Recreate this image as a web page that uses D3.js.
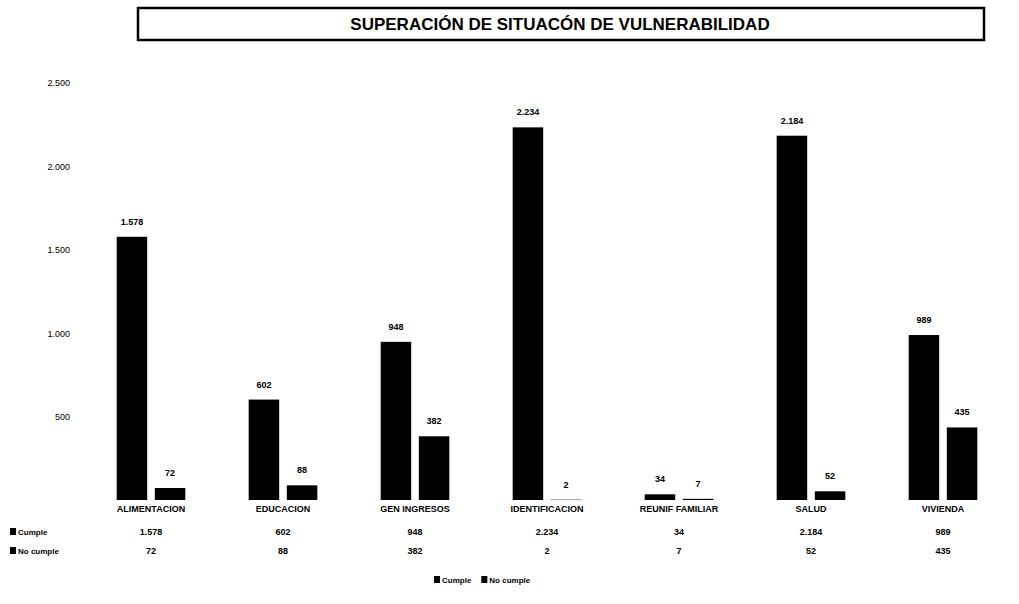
<!DOCTYPE html>
<html>
<head>
<meta charset="utf-8">
<script src="https://cdn.jsdelivr.net/npm/d3@7"></script>
<style>
  body { margin: 0; background: #fff; }
  text { font-family: "Liberation Sans", Arial, sans-serif; fill: #000; }
</style>
</head>
<body>
<script>
var categories = ["ALIMENTACION", "EDUCACION", "GEN INGRESOS", "IDENTIFICACION", "REUNIF FAMILIAR", "SALUD", "VIVIENDA"];
var series = ["Cumple", "No cumple"];
var cumple = [1578, 602, 948, 2234, 34, 2184, 989];
var noCumple = [72, 88, 382, 2, 7, 52, 435];
var yTicks = [500, 1000, 1500, 2000, 2500];

var width = 1019,
    height = 604;

var fmt = function (v) { return d3.format(",")(v).replace(/,/g, "."); };

var svg = d3.select("body")
    .append("svg")
    .attr("width", width)
    .attr("height", height);

//title box
svg.append("rect")
    .attr("x", 138).attr("y", 8)
    .attr("width", 846).attr("height", 32)
    .attr("fill", "none")
    .attr("stroke", "#000")
    .attr("stroke-width", 2.5);

svg.append("text")
    .attr("x", 560).attr("y", 30)
    .attr("text-anchor", "middle")
    .attr("font-size", 17)
    .attr("font-weight", "bold")
    .text("SUPERACIÓN DE SITUACÓN DE VULNERABILIDAD");

var x = d3.scaleBand()
    .domain(categories)
    .range([85, 1009])
    .paddingInner(0.48)
    .paddingOuter(0.24);

var xInner = d3.scaleBand()
    .domain(series)
    .range([0, x.bandwidth()])
    .paddingInner(0.2);

var y = d3.scaleLinear()
    .domain([0, 2500])
    .range([500, 83]);

//y axis labels only, no line
var yAxis = svg.append("g")
    .attr("transform", "translate(72,0)")
    .call(d3.axisLeft(y).tickValues(yTicks).tickSize(0).tickPadding(2).tickFormat(fmt));
yAxis.select(".domain").remove();
yAxis.selectAll("text").attr("font-size", 9).attr("font-family", "Liberation Sans, Arial, sans-serif");

var rows = categories.map(function (c, i) {
    return { cat: c, values: [cumple[i], noCumple[i]] };
});

var groups = svg.selectAll(".grp")
    .data(rows)
    .enter()
    .append("g")
    .attr("class", "grp")
    .attr("transform", function (d) { return "translate(" + x(d.cat) + ",0)"; });

groups.selectAll("rect")
    .data(function (d) { return d.values.map(function (v, j) { return { s: series[j], v: v }; }); })
    .enter()
    .append("rect")
    .attr("x", function (d) { return xInner(d.s); })
    .attr("y", function (d) { return y(d.v); })
    .attr("width", xInner.bandwidth())
    .attr("height", function (d) { return y(0) - y(d.v); })
    .attr("fill", "#000");

groups.selectAll(".lbl")
    .data(function (d) { return d.values.map(function (v, j) { return { s: series[j], v: v }; }); })
    .enter()
    .append("text")
    .attr("class", "lbl")
    .attr("x", function (d) { return xInner(d.s) + xInner.bandwidth() / 2; })
    .attr("y", function (d) { return y(d.v) - 12; })
    .attr("text-anchor", "middle")
    .attr("font-size", 9)
    .attr("font-weight", "bold")
    .text(function (d) { return fmt(d.v); });

//category labels
svg.selectAll(".cat")
    .data(categories)
    .enter()
    .append("text")
    .attr("x", function (d) { return x(d) + x.bandwidth() / 2; })
    .attr("y", 512)
    .attr("text-anchor", "middle")
    .attr("font-size", 9)
    .attr("font-weight", "bold")
    .text(function (d) { return d; });

//data table
var tableRows = [cumple, noCumple];
tableRows.forEach(function (vals, r) {
    var ty = 535 + r * 19;
    svg.append("rect")
        .attr("x", 10).attr("y", ty - 7)
        .attr("width", 6).attr("height", 7)
        .attr("fill", "#000");
    svg.append("text")
        .attr("x", 18).attr("y", ty)
        .attr("font-size", 8)
        .attr("font-weight", "bold")
        .text(series[r]);
    svg.selectAll(".tv" + r)
        .data(vals)
        .enter()
        .append("text")
        .attr("x", function (d, i) { return x(categories[i]) + x.bandwidth() / 2; })
        .attr("y", ty)
        .attr("text-anchor", "middle")
        .attr("font-size", 9)
        .attr("font-weight", "bold")
        .text(function (d) { return fmt(d); });
});

//legend
var legend = svg.append("g").attr("transform", "translate(434,583)");
var lx = 0;
series.forEach(function (s) {
    legend.append("rect")
        .attr("x", lx).attr("y", -7)
        .attr("width", 6).attr("height", 7)
        .attr("fill", "#000");
    var t = legend.append("text")
        .attr("x", lx + 8).attr("y", 0)
        .attr("font-size", 8)
        .attr("font-weight", "bold")
        .text(s);
    lx += 8 + t.node().getComputedTextLength() + 10;
});
</script>
</body>
</html>
